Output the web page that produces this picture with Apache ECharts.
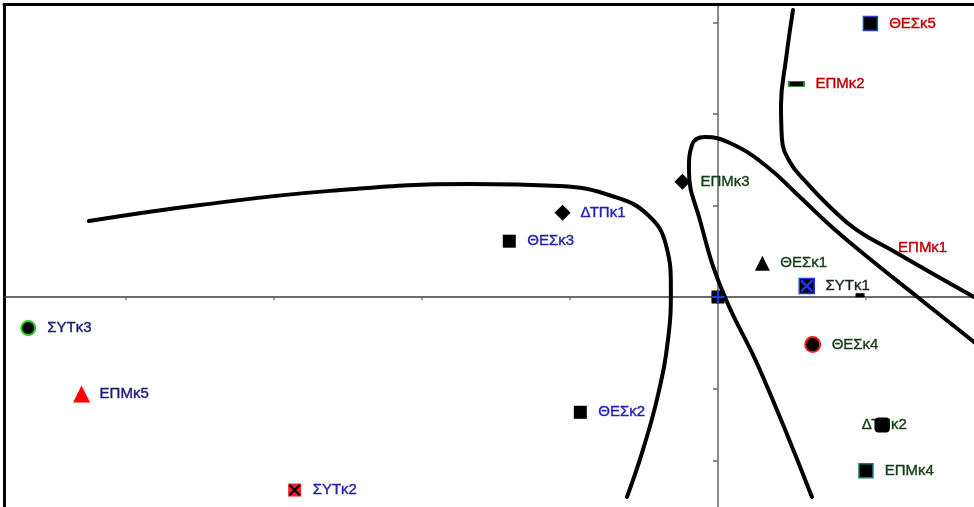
<!DOCTYPE html>
<html>
<head>
<meta charset="utf-8">
<script src="https://cdn.jsdelivr.net/npm/echarts@6/dist/echarts.min.js"></script>
<style>
  html, body { margin: 0; padding: 0; background: #fff; }
  #chart { width: 974px; height: 507px; }
</style>
</head>
<body>
<div id="chart"></div>
<script>
// Category points of the map (dimension 1 on x, dimension 2 on y)
const pointNames = ['ΘΕΣκ5', 'ΕΠΜκ2', 'ΕΠΜκ3', 'ΔΤΠκ1', 'ΘΕΣκ3', 'ΘΕΣκ1', 'ΕΠΜκ1', 'ΣΥΤκ1', '', '',
                    'ΣΥΤκ3', 'ΘΕΣκ4', 'ΕΠΜκ5', 'ΘΕΣκ2', 'ΔΤΠκ2', 'ΕΠΜκ4', 'ΣΥΤκ2'];
const pointX = [1.03, 0.53, -0.24, -1.05, -1.41, 0.30, 1.21, 0.60, 0.00, 0.96,
                -4.66, 0.64, -4.30, -0.93, 1.11, 1.00, -2.86];
const pointY = [2.99, 2.33, 1.26, 0.92, 0.61, 0.37, 0.54, 0.12, 0.00, 0.02,
                -0.34, -0.52, -1.06, -1.26, -1.40, -1.90, -2.11];

// Hand-drawn separating curves
const curveA = [[-4.25, 0.83], [-3.50, 1.005], [-2.62, 1.16], [-1.68, 1.235], [-1.07, 1.213], [-0.696, 1.093],
                [-0.473, 0.896], [-0.351, 0.568], [-0.318, 0.077], [-0.338, -0.47], [-0.405, -1.07],
                [-0.507, -1.67], [-0.615, -2.186]];
const curveB = [[0.635, -2.186], [0.284, -0.798], [0.027, 0.077], [-0.122, 0.842], [-0.196, 1.388],
                [-0.176, 1.661], [-0.088, 1.749], [0.081, 1.683], [0.318, 1.443], [0.554, 1.093],
                [0.777, 0.754], [1.027, 0.415], [1.365, -0.022], [1.73, -0.492], [1.838, -0.634]];
const curveC = [[0.507, 3.137], [0.459, 2.59], [0.426, 2.098], [0.432, 1.737], [0.486, 1.475], [0.595, 1.257],
                [0.757, 0.984], [0.939, 0.732], [1.196, 0.492], [1.466, 0.24], [1.73, 0.0], [1.838, -0.098]];

// Axis tick positions
const xTickValues = [-4, -3, -2, -1, 0, 1];
const yTickValues = [3, 2, 1, 0, -1, -1.79];

// ---- styling ----
const RED = '#c00000', BLUE = '#1f1fb0', NAVY = '#1a1a78', GREEN = '#123e16', DARK = '#172a1c';
const X_PATH = 'path://M0,0 L3,0 L10,7 L17,0 L20,0 L20,3 L13,10 L20,17 L20,20 L17,20 L10,13 L3,20 L0,20 L0,17 L7,10 L0,3 Z';
const PLUS_PATH = 'path://M8.5,0 H11.5 V8.5 H20 V11.5 H11.5 V20 H8.5 V11.5 H0 V8.5 H8.5 Z';

// one entry per point: marker, size, fill, border, label colour, overlay glyph
const pointStyles = [
  { symbol: 'rect', size: 14, fill: '#000', border: '#2a44c8', bw: 1.5, label: RED },
  { symbol: 'rect', size: [15, 5], fill: '#000', border: '#1e8a1e', bw: 1.2, label: RED },
  { symbol: 'diamond', size: 16, fill: '#000', label: GREEN },
  { symbol: 'diamond', size: 16, fill: '#000', label: BLUE },
  { symbol: 'rect', size: 13, fill: '#000', label: BLUE },
  { symbol: 'triangle', size: 15, fill: '#000', label: GREEN },
  { symbol: 'circle', size: 2, fill: 'rgba(0,0,0,0)', label: RED, labelOnly: true },
  { symbol: 'rect', size: 15, fill: '#000', border: '#2233ff', bw: 1.5, label: DARK, glyph: X_PATH, glyphColor: '#2233ff', glyphSize: 12 },
  { symbol: 'rect', size: 13, fill: '#000', glyph: PLUS_PATH, glyphColor: '#2233ff', glyphSize: 13 },
  { symbol: 'rect', size: [9, 4], fill: '#000' },
  { symbol: 'circle', size: 14, fill: '#000', border: '#22cc22', bw: 2, label: NAVY },
  { symbol: 'circle', size: 15, fill: '#000', border: '#ff1a1a', bw: 2, label: GREEN },
  { symbol: 'triangle', size: 17, fill: '#ff0000', label: NAVY },
  { symbol: 'rect', size: 13, fill: '#000', label: BLUE },
  { symbol: 'roundRect', size: 15, fill: '#000', label: GREEN, under: true },
  { symbol: 'rect', size: 14, fill: '#000', border: '#1d7a6c', bw: 1.5, label: GREEN },
  { symbol: 'rect', size: 13, fill: '#ff2020', label: BLUE, glyph: X_PATH, glyphColor: '#000', glyphSize: 11 }
];

const FONT = 'Liberation Sans';
const X_MIN = -4.824, X_MAX = 1.730, Y_MIN = -2.295, Y_MAX = 3.197;

const series = [];
function curveSeries(data) {
  return {
    type: 'line', data: data, smooth: 0.45, symbol: 'none', z: 3, silent: true,
    lineStyle: { color: '#000', width: 4, cap: 'round', join: 'round' }, clip: true
  };
}
series.push(curveSeries(curveA), curveSeries(curveB), curveSeries(curveC));

function labelFor(name, st, half) {
  if (!name) return { show: false };
  return {
    show: true, formatter: name, color: st.label, fontFamily: FONT, fontSize: 15, opacity: 1,
    textBorderColor: st.label, textBorderWidth: 0.4,
    position: st.under ? 'inside' : 'right',
    distance: st.under ? 0 : (st.labelOnly ? 0 : 18 - half),
    offset: st.under ? [2, 0] : [0, 0]
  };
}

pointNames.forEach(function (name, i) {
  const st = pointStyles[i];
  const val = [pointX[i], pointY[i]];
  const half = Array.isArray(st.size) ? st.size[0] / 2 : st.size / 2;
  const labelCfg = labelFor(name, st, half);
  if (st.under) {
    // the label sits beneath its own marker
    series.push({ type: 'scatter', z: 4, silent: true, symbol: 'circle', symbolSize: 2,
      itemStyle: { color: 'rgba(0,0,0,0)', opacity: 1 }, label: labelCfg, data: [{ value: val, name: name }] });
    series.push({ type: 'scatter', z: 6, silent: true, symbol: st.symbol, symbolSize: st.size,
      itemStyle: { color: st.fill, opacity: 1 }, data: [{ value: val, name: name }] });
  } else {
    series.push({
      type: 'scatter', z: 5, silent: true, symbol: st.symbol, symbolSize: st.size,
      itemStyle: { color: st.fill, borderColor: st.border || st.fill, borderWidth: st.bw || 0, opacity: 1 },
      label: labelCfg, data: [{ value: val, name: name }]
    });
  }
  if (st.glyph) {
    series.push({ type: 'scatter', z: 7, silent: true, symbol: st.glyph, symbolSize: st.glyphSize,
      itemStyle: { color: st.glyphColor, opacity: 1 }, data: [val] });
  }
});

const hidden = { show: false };
const option = {
  backgroundColor: '#ffffff',
  animation: false,
  grid: { left: 4, top: 4.5, right: 0, bottom: 0, containLabel: false },
  xAxis: [
    {
      type: 'value', min: X_MIN, max: X_MAX, splitLine: hidden, axisLabel: hidden,
      axisLine: { onZero: true, lineStyle: { color: '#3a3a3a', width: 1.5 } },
      axisTick: { show: true, customValues: xTickValues, length: 3, lineStyle: { color: '#777', width: 1.5 } }
    },
    {
      type: 'value', position: 'top', min: X_MIN, max: X_MAX, splitLine: hidden, axisLabel: hidden,
      axisTick: hidden, axisLine: { show: true, onZero: false, lineStyle: { color: '#000', width: 3 } }
    }
  ],
  yAxis: [
    {
      type: 'value', min: Y_MIN, max: Y_MAX, splitLine: hidden, axisLabel: hidden,
      axisLine: { onZero: true, lineStyle: { color: '#8a8a8a', width: 2 } },
      axisTick: { show: true, customValues: yTickValues, length: 5, lineStyle: { color: '#666', width: 1.5 } }
    },
    {
      type: 'value', position: 'left', offset: 0, min: Y_MIN, max: Y_MAX, splitLine: hidden, axisLabel: hidden,
      axisTick: hidden, axisLine: { show: true, onZero: false, lineStyle: { color: '#000', width: 3 } }
    }
  ],
  series: series
};

const chart = echarts.init(document.getElementById('chart'), null, { renderer: 'canvas' });
chart.setOption(option);
</script>
</body>
</html>
